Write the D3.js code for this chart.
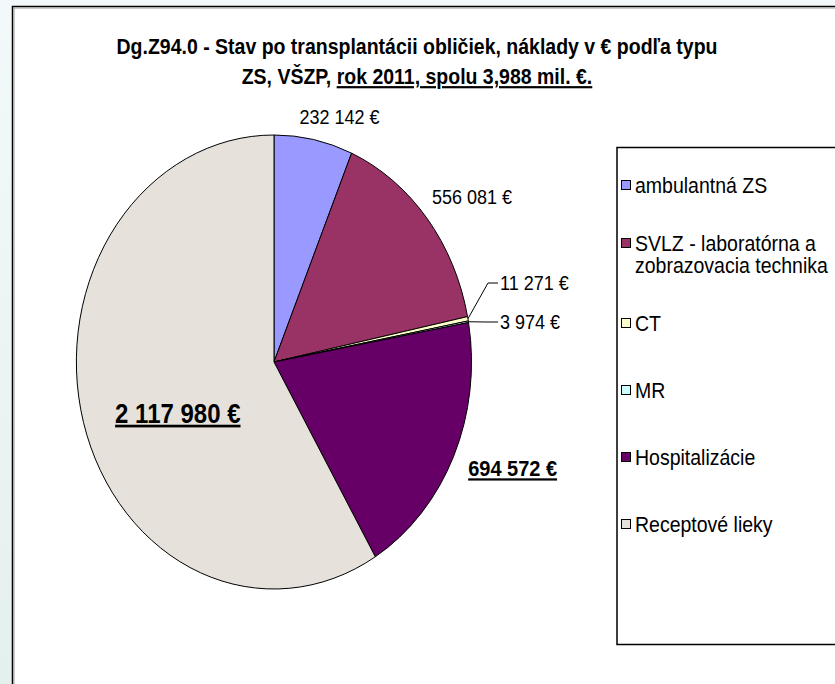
<!DOCTYPE html>
<html>
<head>
<meta charset="utf-8">
<script src="https://cdn.jsdelivr.net/npm/d3@7"></script>
<style>
  html, body { margin: 0; padding: 0; }
  body { width: 835px; height: 684px; overflow: hidden;
         background: linear-gradient(#f3f9fa, #e4f0ee); }
  svg text { font-family: Arial, "Liberation Sans", sans-serif; fill: #000; }
</style>
</head>
<body>
<svg id="chart" width="835" height="684"></svg>
<script>
// data
var categories = ['ambulantná ZS', 'SVLZ - laboratórna a zobrazovacia technika', 'CT', 'MR', 'Hospitalizácie', 'Receptové lieky'];
var legendLines = [['ambulantná ZS'], ['SVLZ - laboratórna a', 'zobrazovacia technika'], ['CT'], ['MR'], ['Hospitalizácie'], ['Receptové lieky']];
var values = [232142, 556081, 11271, 3974, 694572, 2117980];
var valueLabels = ['232 142 €', '556 081 €', '11 271 €', '3 974 €', '694 572 €', '2 117 980 €'];
var colors = ['#9999ff', '#993366', '#ffffcc', '#ccffff', '#660066', '#e6e2db'];

// layout
var cx = 274, cy = 362, rx = 197.5, ry = 227;
var stretch = 1.12;   // the original picture is stretched vertically
// label placement: radius factor + nudge, leader = draw a leader line
var labelLayout = [
    {r: 1.1, dx: 22, dy: 0, size: 18},
    {r: 1.15, dx: 22, dy: 0, size: 18},
    {leader: true, x: 500, y: 283, size: 18},
    {leader: true, x: 500, y: 322, size: 18},
    {r: 1.0, dx: 59, dy: 12, size: 20, bold: true},
    {r: 0.5, dx: -1, dy: 21, size: 24, bold: true}
];

var svg = d3.select('#chart');

var placeText = function(parent, x, y) {
    return parent.append('g')
        .attr('transform', 'translate(' + x + ',' + y + ') scale(1,' + stretch + ')')
        .append('text');
};

// chart frame
svg.append('rect')
    .attr('x', 12.5).attr('y', 6.5)
    .attr('width', 900).attr('height', 800)
    .attr('fill', '#fff')
    .attr('stroke', '#000').attr('stroke-width', 1.5);
svg.append('path')
    .attr('d', 'M14,800 L14,8 L900,8')
    .attr('fill', 'none').attr('stroke', '#999').attr('stroke-width', 1);

// title
var title = placeText(svg, 417, 0)
    .attr('text-anchor', 'middle')
    .style('font-weight', 'bold').style('font-size', '19.5px');
title.append('tspan').attr('x', 0).attr('y', 54 / stretch)
    .text('Dg.Z94.0 - Stav po transplantácii obličiek, náklady v € podľa typu');
var t2 = title.append('tspan').attr('x', 0).attr('y', 84 / stretch);
t2.append('tspan').text('ZS, VŠZP, ');
t2.append('tspan').style('text-decoration', 'underline').text('rok 2011, spolu 3,988 mil. €.');

// pie
var pie = d3.pie().sort(null).value(function(d) { return d; });
var arcs = pie(values);
var arc = d3.arc().innerRadius(0).outerRadius(1);

var g = svg.append('g')
    .attr('transform', 'translate(' + cx + ',' + cy + ') scale(' + rx + ',' + ry + ')');

g.selectAll('path.slice')
    .data(arcs)
    .enter().append('path')
    .attr('class', 'slice')
    .attr('d', arc)
    .attr('fill', function(d, i) { return colors[i]; })
    .attr('stroke', '#000')
    .attr('stroke-width', 1)
    .attr('vector-effect', 'non-scaling-stroke');

// point on the ellipse at the slice mid angle
var ellipsePt = function(d, r) {
    var a = (d.startAngle + d.endAngle) / 2;
    return [cx + r * rx * Math.sin(a), cy - r * ry * Math.cos(a)];
};

// labels
arcs.forEach(function(d, i) {
    var L = labelLayout[i], t;
    if (L.leader) {
        var p = ellipsePt(d, 1.0);
        svg.append('polyline')
            .attr('points', [p, [488, L.y], [498, L.y]].map(function(q) { return q.join(','); }).join(' '))
            .attr('fill', 'none').attr('stroke', '#000').attr('stroke-width', 1);
        t = placeText(svg, L.x, L.y);
    } else {
        var q = ellipsePt(d, L.r);
        t = placeText(svg, q[0] + L.dx, q[1] + L.dy).attr('text-anchor', 'middle');
    }
    t.attr('dy', '0.35em').style('font-size', L.size + 'px').text(valueLabels[i]);
    if (L.bold) t.style('font-weight', 'bold').style('text-decoration', 'underline');
});

// legend
var lg = svg.append('g');
lg.append('rect')
    .attr('x', 617).attr('y', 147.5)
    .attr('width', 300).attr('height', 497)
    .attr('fill', '#fff').attr('stroke', '#000').attr('stroke-width', 1.5);

var legendY = [185, 243, 323, 390, 457, 524];
var item = lg.selectAll('g.item')
    .data(categories)
    .enter().append('g')
    .attr('class', 'item')
    .attr('transform', function(d, i) { return 'translate(621,' + legendY[i] + ')'; });

item.append('rect')
    .attr('x', 0.5).attr('y', -4.5)
    .attr('width', 9).attr('height', 9)
    .attr('fill', function(d, i) { return colors[i]; })
    .attr('stroke', '#000').attr('stroke-width', 1);

// one text per line so the wrapped legend entry keeps clear line boxes
item.each(function(d, i) {
    var it = d3.select(this);
    legendLines[i].forEach(function(line, j) {
        placeText(it, 14, j * 22)
            .attr('dy', '0.35em')
            .style('font-size', '19.5px')
            .text(line);
    });
});
</script>
</body>
</html>
